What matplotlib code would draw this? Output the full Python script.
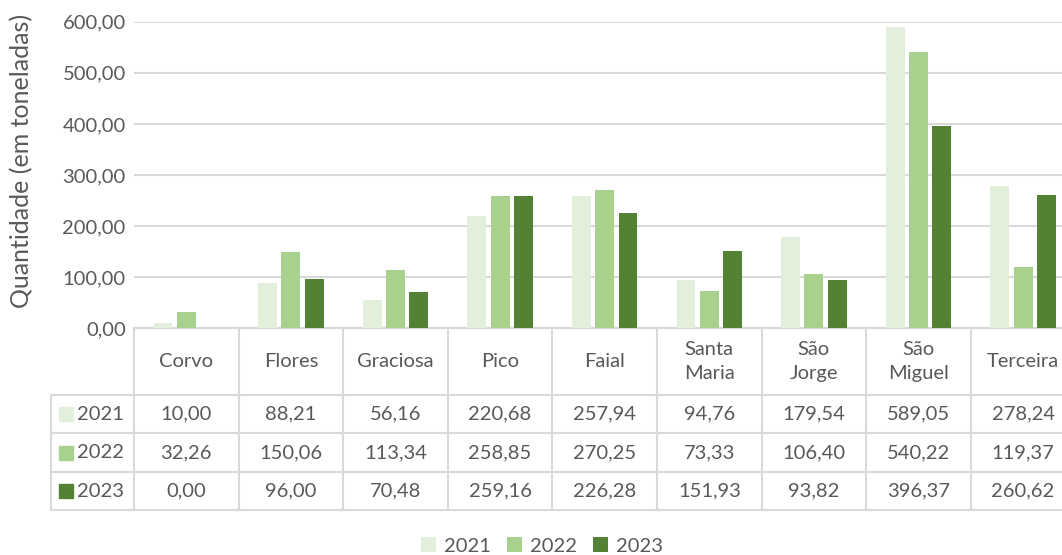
import numpy as np
import matplotlib.pyplot as plt
from matplotlib.patches import Patch

# data
islands = ['Corvo', 'Flores', 'Graciosa', 'Pico', 'Faial', 'Santa\nMaria',
           'São\nJorge', 'São\nMiguel', 'Terceira']
years = ['2021', '2022', '2023']
v2021 = [10.00, 88.21, 56.16, 220.68, 257.94, 94.76, 179.54, 589.05, 278.24]
v2022 = [32.26, 150.06, 113.34, 258.85, 270.25, 73.33, 106.40, 540.22, 119.37]
v2023 = [0.00, 96.00, 70.48, 259.16, 226.28, 151.93, 93.82, 396.37, 260.62]
yticks = [0, 100, 200, 300, 400, 500, 600]

colors = ['#E2EFDA', '#A9D18E', '#548235']
grid_c = '#D9D9D9'
txt_c = '#595959'

plt.rcParams['font.family'] = ['Lato', 'DejaVu Sans']
fs = 14.5

def fmt(v):
    return f'{v:,.2f}'.replace(',', 'X').replace('.', ',').replace('X', '.')

W, H = 1062, 555
fig = plt.figure(figsize=(W / 100, H / 100), dpi=100)

# main bar chart, column width ~104.6 px, chart runs past the right edge
colw = 104.6
left_px = 134
ax = fig.add_axes([left_px / W, (H - 328.3) / H, 9 * colw / W, 306.6 / H])
x = np.arange(len(islands))
step, bw = 0.223, 0.18
for i, (vals, c) in enumerate(zip([v2021, v2022, v2023], colors)):
    ax.bar(x + (i - 1) * step, vals, width=bw, color=c, zorder=3)
ax.set_xlim(-0.5, len(islands) - 0.5)
ax.set_ylim(0, 600)
ax.set_yticks(yticks)
ax.set_yticklabels([fmt(t) for t in yticks], fontsize=fs, color=txt_c)
ax.tick_params(axis='y', length=0, pad=6)
ax.set_xticks([])
ax.yaxis.grid(True, color=grid_c, linewidth=1.5, zorder=0)
for s in ['top', 'right', 'left']:
    ax.spines[s].set_visible(False)
ax.spines['bottom'].set_color(grid_c)
ax.spines['bottom'].set_linewidth(1.5)
fig.text(22 / W, (H - 161) / H, 'Quantidade (em toneladas)', rotation=90,
         ha='center', va='center', fontsize=18, color=txt_c)

# data table below
lab_px = 83
tax = fig.add_axes([(left_px - lab_px) / W, (H - 510.3) / H,
                    (9 * colw + lab_px) / W, 182 / H])
tax.set_xlim(-0.5 - lab_px / colw, len(islands) - 0.5)
hdr, rowh = 66.7, 38.5
tax.set_ylim(hdr + 3 * rowh, 0)
tax.axis('off')
xl = -0.5 - lab_px / colw
xr = len(islands) - 0.5
lw = 1.5
for b in np.arange(len(islands) + 1) - 0.5:
    tax.plot([b, b], [0, hdr + 3 * rowh], color=grid_c, lw=lw, clip_on=False)
tax.plot([xl, xl], [hdr, hdr + 3 * rowh], color=grid_c, lw=lw, clip_on=False)
for r in range(4):
    yy = hdr + r * rowh
    tax.plot([xl, xr], [yy, yy], color=grid_c, lw=lw, clip_on=False)

for j, name in enumerate(islands):
    tax.text(j, hdr / 2, name, ha='center', va='center', fontsize=fs,
             color=txt_c, linespacing=1.45)

for r, (yr, vals, c) in enumerate(zip(years, [v2021, v2022, v2023], colors)):
    yc = hdr + (r + 0.5) * rowh
    tax.add_patch(plt.Rectangle((xl + 8 / colw, yc - 7), 14 / colw, 14,
                                color=c, clip_on=False))
    tax.text(xl + 26 / colw, yc, yr, ha='left', va='center', fontsize=fs,
             color=txt_c)
    for j, v in enumerate(vals):
        tax.text(j, yc, fmt(v), ha='center', va='center', fontsize=fs,
                 color=txt_c)

handles = [Patch(facecolor=c, label=y) for c, y in zip(colors, years)]
fig.legend(handles=handles, loc='center', bbox_to_anchor=(542 / W, 9 / H),
           ncol=3, frameon=False, fontsize=14.5, handlelength=0.75,
           handleheight=0.75, handletextpad=0.4, columnspacing=0.8,
           labelcolor=txt_c)

fig.savefig('out.png', dpi=100)
